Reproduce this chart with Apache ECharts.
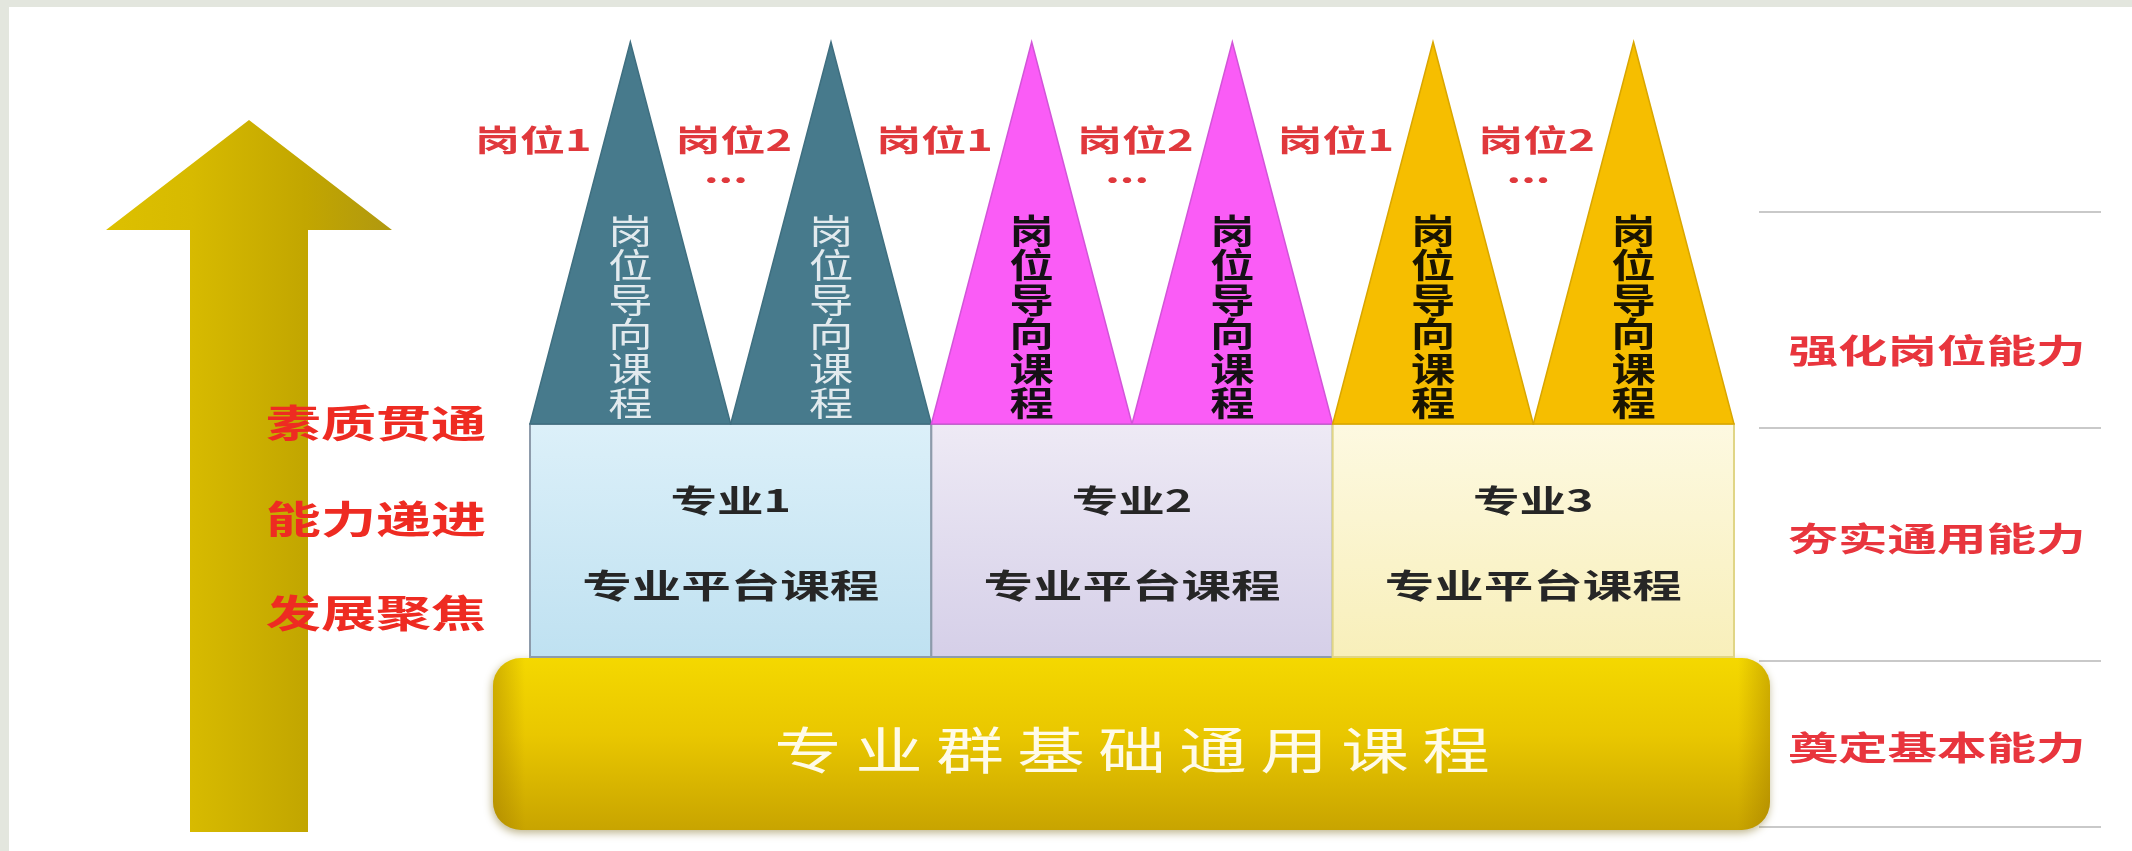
<!DOCTYPE html>
<html><head><meta charset="utf-8">
<script src="https://cdn.jsdelivr.net/npm/echarts@6/dist/echarts.min.js"></script>
<style>html,body{margin:0;padding:0;background:#fff}#chart{width:2132px;height:851px}</style>
</head><body><div id="chart"></div>
<script>
// ---- data ----
const majors = ['专业1', '专业2', '专业3'];
const posts = ['岗位1', '岗位2'];
const morePosts = '...';
const postCourse = '岗位导向课程';
const platformCourse = '专业平台课程';
const baseCourse = '专业群基础通用课程';
const tiers = ['强化岗位能力', '夯实通用能力', '奠定基本能力'];
const progression = ['素质贯通', '能力递进', '发展聚焦'];

// ---- layout & style ----
const L = {
  W: 2132, H: 851,
  majorX0: 530, majorW: 401.33,
  tipY: 42, boxTop: 424, boxBottom: 657,
  baseX0: 493, baseX1: 1770, baseTop: 658, baseBottom: 830, baseR: 28,
  postLabelY: 140, dotsY: 172,
  majorNameY: 500, platformY: 585, triText0: 231, triTextStep: 34.5,
  tierLineX0: 1759, tierLineX1: 2101, tierLines: [212, 428, 661, 827], tierLabelY: [350, 538, 747], tierLabelX: 1937,
  arrow: { cx: 249, tip: 120, headBase: 230, headHalf: 143, shaftHalf: 59, bottom: 832 },
  progX: 376, progY: [423, 519, 613],
  baseTextY: 750, baseTextX: 1132, baseTextPitch: 81
};
const FF = "'Noto Sans CJK SC','Noto Sans',sans-serif";
const SX = 1.48;
const triColors = ['#477a8c', '#fa5cf6', '#f6be00'];
const triStroke = ['#3f6f80', '#d255d8', '#d9a600'];
const triTextColors = ['#e2eaee', '#151015', '#1a1400'];
const boxFills = [['#dcf0f9', '#bfe1f1'], ['#eeeaf5', '#d5cfe8'], ['#fdf9e1', '#f8efba']];
const boxStroke = ['#8d9bab', '#8d9bab', '#e0d586'];
const redLeft = '#ee2b22', redPost = '#e0383c', redTier = '#e8353d';

function toU(px) { return (px - L.majorX0) / L.majorW; }
function vgrad(a, b) { return { type: 'linear', x: 0, y: 0, x2: 0, y2: 1, colorStops: [{ offset: 0, color: a }, { offset: 1, color: b }] }; }
function txt(p, text, size, color, weight, sx) {
  return { type: 'text', x: p[0], y: p[1], scaleX: sx || SX,
    style: { text: text, fontSize: size, fontFamily: FF, fontWeight: weight || 'bold', fill: color, align: 'center', verticalAlign: 'middle' } };
}

const series = [];

// arrow
series.push({
  type: 'custom', name: 'arrow', data: [[0, 0]], z: 2,
  renderItem: function (params, api) {
    const a = L.arrow;
    const pts = [
      [a.cx, a.tip], [a.cx + a.headHalf, a.headBase], [a.cx + a.shaftHalf, a.headBase],
      [a.cx + a.shaftHalf, a.bottom], [a.cx - a.shaftHalf, a.bottom], [a.cx - a.shaftHalf, a.headBase],
      [a.cx - a.headHalf, a.headBase]
    ].map(p => api.coord([toU(p[0]), p[1]]));
    return { type: 'polygon', shape: { points: pts },
      style: { fill: { type: 'linear', x: 0, y: 0, x2: 1, y2: 0, colorStops: [
        { offset: 0, color: '#ddc000' }, { offset: 0.3, color: '#d7ba00' }, { offset: 0.7, color: '#c2a600' }, { offset: 1, color: '#b09810' }] } } };
  }
});

// progression texts
series.push({
  type: 'custom', name: 'progression', data: progression.map((t, k) => [k, 0]), z: 3,
  renderItem: function (params, api) {
    const k = api.value(0);
    return txt(api.coord([toU(L.progX), L.progY[k]]), progression[k], 38, redLeft, 'bold', 1.45);
  }
});

// tier lines and labels
series.push({
  type: 'custom', name: 'tiers', data: tiers.map((t, k) => [k, 0]), z: 2,
  renderItem: function (params, api) {
    const k = api.value(0);
    const ch = [];
    const addLine = (y) => {
      const p0 = api.coord([toU(L.tierLineX0), y]), p1 = api.coord([toU(L.tierLineX1), y]);
      ch.push({ type: 'line', shape: { x1: p0[0], y1: p0[1], x2: p1[0], y2: p1[1] }, style: { stroke: '#c9c9c9', lineWidth: 2 } });
    };
    addLine(L.tierLines[k]);
    if (k === tiers.length - 1) addLine(L.tierLines[k + 1]);
    ch.push(txt(api.coord([toU(L.tierLabelX), L.tierLabelY[k]]), tiers[k], 33, redTier, 'bold', 1.5));
    return { type: 'group', children: ch };
  }
});

// foundation
series.push({
  type: 'custom', name: 'foundation', data: [[0, 0]], z: 3,
  renderItem: function (params, api) {
    const p0 = api.coord([toU(L.baseX0), L.baseTop]), p1 = api.coord([toU(L.baseX1), L.baseBottom]);
    const shape = { x: p0[0], y: p0[1], width: p1[0] - p0[0], height: p1[1] - p0[1], r: L.baseR };
    const ch = [
      { type: 'rect', shape: shape, style: { fill: { type: 'linear', x: 0, y: 0, x2: 0, y2: 1, colorStops: [
        { offset: 0, color: '#f4d800' }, { offset: 0.45, color: '#e9c700' }, { offset: 1, color: '#c8a400' }] },
        shadowBlur: 8, shadowOffsetY: 3, shadowOffsetX: -1, shadowColor: 'rgba(110,90,0,0.45)' } },
      { type: 'rect', shape: shape, style: { fill: { type: 'linear', x: 0, y: 0, x2: 1, y2: 0, colorStops: [
        { offset: 0, color: 'rgba(140,100,0,0.35)' }, { offset: 0.025, color: 'rgba(140,100,0,0)' },
        { offset: 0.975, color: 'rgba(140,100,0,0)' }, { offset: 1, color: 'rgba(140,100,0,0.35)' }] } } }
    ];
    const chars = Array.from(baseCourse);
    chars.forEach((c, k) => {
      const x = L.baseTextX + (k - (chars.length - 1) / 2) * L.baseTextPitch;
      ch.push(txt(api.coord([toU(x), L.baseTextY]), c, 50, '#fffbe8', 'normal', 1.35));
    });
    return { type: 'group', children: ch };
  }
});

// platform boxes
series.push({
  type: 'custom', name: 'platform', data: majors.map((m, i) => [i, 0]), z: 3,
  renderItem: function (params, api) {
    const i = api.value(0);
    const p0 = api.coord([i, L.boxTop]), p1 = api.coord([i + 1, L.boxBottom]);
    const c = api.coord([i + 0.5, L.majorNameY]), c2 = api.coord([i + 0.5, L.platformY]);
    return { type: 'group', children: [
      { type: 'rect', shape: { x: p0[0], y: p0[1], width: p1[0] - p0[0], height: p1[1] - p0[1] },
        style: { fill: vgrad(boxFills[i][0], boxFills[i][1]), stroke: boxStroke[i], lineWidth: 2 } },
      txt(c, majors[i], 31, '#262626', 'bold', 1.5),
      txt(c2, platformCourse, 33, '#262626', 'bold', 1.5)
    ] };
  }
});

// post triangles
series.push({
  type: 'custom', name: 'posts', data: majors.flatMap((m, i) => posts.map((p, j) => [i, j])), z: 4,
  renderItem: function (params, api) {
    const i = api.value(0), j = api.value(1), n = posts.length;
    const x0 = i + j / n, x1 = i + (j + 1) / n, xm = (x0 + x1) / 2;
    const pts = [api.coord([x0, L.boxTop]), api.coord([xm, L.tipY]), api.coord([x1, L.boxTop])];
    const ch = [{ type: 'polygon', shape: { points: pts }, style: { fill: triColors[i], stroke: triStroke[i], lineWidth: 1.5 } }];
    Array.from(postCourse).forEach((c, k) => {
      ch.push(txt(api.coord([xm, L.triText0 + k * L.triTextStep]), c, 34, triTextColors[i], i === 0 ? 'normal' : 'bold', 1.3));
    });
    const lx = x0 + 0.008;
    ch.push(txt(api.coord([lx, L.postLabelY]), posts[j], 30, redPost, 'bold', 1.5));
    if (j === n - 1) ch.push(txt(api.coord([lx - 0.02, L.dotsY]), morePosts, 30, redPost, 'bold', 1.5));
    return { type: 'group', children: ch };
  }
});

const chart = echarts.init(document.getElementById('chart'));
chart.setOption({
  animation: false,
  backgroundColor: '#e3e6de',
  graphic: [{ type: 'rect', left: 9, top: 7, z: -10, shape: { width: 2132 - 9, height: 851 - 7 }, style: { fill: '#ffffff' } }],
  grid: { left: 0, right: 0, top: 0, bottom: 0 },
  xAxis: { type: 'value', min: toU(0), max: toU(L.W), show: false },
  yAxis: { type: 'value', min: 0, max: L.H, inverse: true, show: false },
  series: series
});
</script></body></html>
